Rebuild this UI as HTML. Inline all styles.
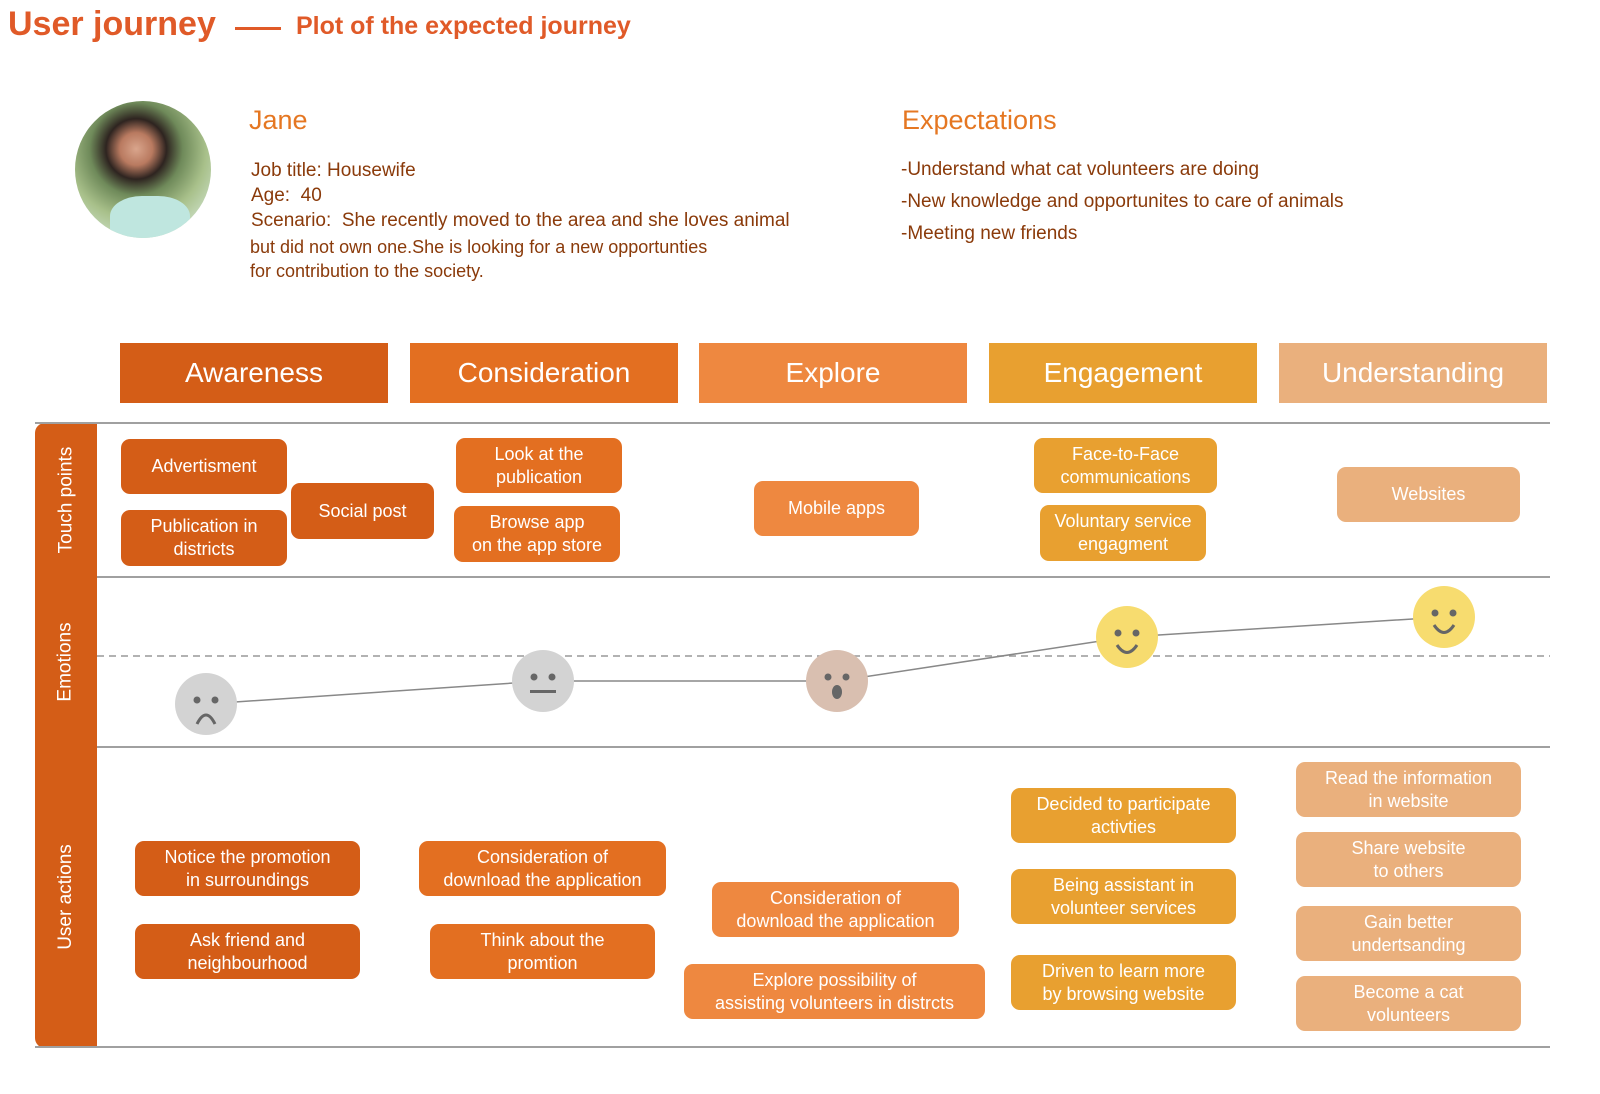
<!DOCTYPE html>
<html><head><meta charset="utf-8"><style>
html{margin:0;padding:0;overflow:hidden;width:1600px;height:1094px}
body{margin:0;width:1600px;height:1094px;background:#fff;position:relative;overflow:hidden;font-family:"Liberation Sans",sans-serif}
.a{position:absolute}
.b{position:absolute;border-radius:9px;color:#fff;font-size:18px;line-height:23px;display:flex;align-items:center;justify-content:center;text-align:center}
.h{position:absolute;top:343px;height:60px;width:268px;color:#fff;font-size:28px;display:flex;align-items:center;justify-content:center}
.A{background:#d45d17}.C{background:#e36f21}.E{background:#ee8840}.G{background:#e8a030}.U{background:#eab07d}
.t{color:#8a3a0a;font-size:19px}
.lab{position:absolute;left:35px;width:62px;color:#fff;font-size:19px;display:flex;align-items:center;justify-content:center}
.lab span{transform:rotate(-90deg);white-space:nowrap;display:block}
</style></head><body>
<div class="a" style="left:8px;top:5px;font-size:34px;font-weight:bold;color:#e05a28">User journey</div>
<div class="a" style="left:235px;top:27px;width:46px;height:3px;background:#e05a28"></div>
<div class="a" style="left:296px;top:12px;font-size:25px;font-weight:bold;color:#e05a28">Plot of the expected journey</div>
<div class="a" style="left:75px;top:101px;width:136px;height:137px;border-radius:50%;background:radial-gradient(circle at 45% 35%,#d9a58c 0,#b97a60 14%,#2e2420 26%,#6f8a5a 40%,#a8c08a 60%,#c8dcc0 80%);overflow:hidden"><div class="a" style="left:35px;top:95px;width:80px;height:50px;background:#bfe6df;border-radius:40% 40% 0 0"></div></div>
<div class="a" style="left:249px;top:105px;font-size:27px;color:#e57722">Jane</div>
<div class="a t" style="left:251px;top:158px;line-height:25px">Job title: Housewife<br>Age:&nbsp; 40<br>Scenario:&nbsp; She recently moved to the area and she loves animal</div>
<div class="a t" style="left:250px;top:235px;font-size:18px;line-height:24px">but did not own one.She is looking for a new opportunties<br>for contribution to the society.</div>
<div class="a" style="left:902px;top:105px;font-size:27px;color:#e57722">Expectations</div>
<div class="a t" style="left:901px;top:154px;line-height:32px">-Understand what cat volunteers are doing<br>-New knowledge and opportunites to care of animals<br>-Meeting new friends</div>

<div class="h A" style="left:120px">Awareness</div>
<div class="h C" style="left:410px">Consideration</div>
<div class="h E" style="left:699px">Explore</div>
<div class="h G" style="left:989px">Engagement</div>
<div class="h U" style="left:1279px">Understanding</div>

<div class="a" style="left:35px;top:423px;width:62px;height:625px;background:#d45d17;border-radius:10px 0 0 10px"></div>
<div class="lab" style="top:423px;height:154px"><span>Touch points</span></div>
<div class="lab" style="top:577px;height:170px"><span>Emotions</span></div>
<div class="lab" style="top:747px;height:300px"><span>User actions</span></div>
<div class="a" style="left:35px;top:422px;width:1515px;height:2px;background:#a0a0a0"></div>
<div class="a" style="left:97px;top:576px;width:1453px;height:2px;background:#a0a0a0"></div>
<div class="a" style="left:97px;top:746px;width:1453px;height:2px;background:#a0a0a0"></div>
<div class="a" style="left:35px;top:1046px;width:1515px;height:2px;background:#a0a0a0"></div>

<svg class="a" style="left:0;top:0" width="1600" height="1094">
<line x1="97" y1="656" x2="1550" y2="656" stroke="#999" stroke-width="1.5" stroke-dasharray="7,5"/>
<polyline points="206,704 543,681 837,681 1127,637 1444,617" fill="none" stroke="#888" stroke-width="1.5"/>
<g fill="#666">
<ellipse cx="206" cy="704" rx="31" ry="31" fill="#d3d3d3"/><circle cx="197" cy="700" r="3.5"/><circle cx="215" cy="700" r="3.5"/><path d="M197 724 Q206 706 215 724" fill="none" stroke="#666" stroke-width="3"/>
<ellipse cx="543" cy="681" rx="31" ry="31" fill="#d3d3d3"/><circle cx="534" cy="677" r="3.5"/><circle cx="552" cy="677" r="3.5"/><rect x="530" y="690" width="26" height="3"/>
<ellipse cx="837" cy="681" rx="31" ry="31" fill="#d9bfb0"/><circle cx="828" cy="677" r="3.5"/><circle cx="846" cy="677" r="3.5"/><ellipse cx="837" cy="692" rx="5" ry="7"/>
<circle cx="1127" cy="637" r="31" fill="#f7dc6f"/><circle cx="1118" cy="633" r="3.5"/><circle cx="1136" cy="633" r="3.5"/><path d="M1117 645 Q1127 660 1137 645" fill="none" stroke="#666" stroke-width="3"/>
<circle cx="1444" cy="617" r="31" fill="#f7dc6f"/><circle cx="1435" cy="613" r="3.5"/><circle cx="1453" cy="613" r="3.5"/><path d="M1434 625 Q1444 640 1454 625" fill="none" stroke="#666" stroke-width="3"/>
</g></svg>

<div class="b A" style="left:121px;top:439px;width:166px;height:55px">Advertisment</div>
<div class="b A" style="left:121px;top:510px;width:166px;height:56px">Publication in<br>districts</div>
<div class="b A" style="left:291px;top:483px;width:143px;height:56px">Social post</div>
<div class="b C" style="left:456px;top:438px;width:166px;height:55px">Look at the<br>publication</div>
<div class="b C" style="left:454px;top:506px;width:166px;height:56px">Browse app<br>on the app store</div>
<div class="b E" style="left:754px;top:481px;width:165px;height:55px">Mobile apps</div>
<div class="b G" style="left:1034px;top:438px;width:183px;height:55px">Face-to-Face<br>communications</div>
<div class="b G" style="left:1040px;top:505px;width:166px;height:56px">Voluntary service<br>engagment</div>
<div class="b U" style="left:1337px;top:467px;width:183px;height:55px">Websites</div>

<div class="b A" style="left:135px;top:841px;width:225px;height:55px">Notice the promotion<br>in surroundings</div>
<div class="b A" style="left:135px;top:924px;width:225px;height:55px">Ask friend and<br>neighbourhood</div>
<div class="b C" style="left:419px;top:841px;width:247px;height:55px">Consideration of<br>download the application</div>
<div class="b C" style="left:430px;top:924px;width:225px;height:55px">Think about the<br>promtion</div>
<div class="b E" style="left:712px;top:882px;width:247px;height:55px">Consideration of<br>download the application</div>
<div class="b E" style="left:684px;top:964px;width:301px;height:55px">Explore possibility of<br>assisting volunteers in distrcts</div>
<div class="b G" style="left:1011px;top:788px;width:225px;height:55px">Decided to participate<br>activties</div>
<div class="b G" style="left:1011px;top:869px;width:225px;height:55px">Being assistant in<br>volunteer services</div>
<div class="b G" style="left:1011px;top:955px;width:225px;height:55px">Driven to learn more<br>by browsing website</div>
<div class="b U" style="left:1296px;top:762px;width:225px;height:55px">Read the information<br>in website</div>
<div class="b U" style="left:1296px;top:832px;width:225px;height:55px">Share website<br>to others</div>
<div class="b U" style="left:1296px;top:906px;width:225px;height:55px">Gain better<br>undertsanding</div>
<div class="b U" style="left:1296px;top:976px;width:225px;height:55px">Become a cat<br>volunteers</div>
</body></html>
